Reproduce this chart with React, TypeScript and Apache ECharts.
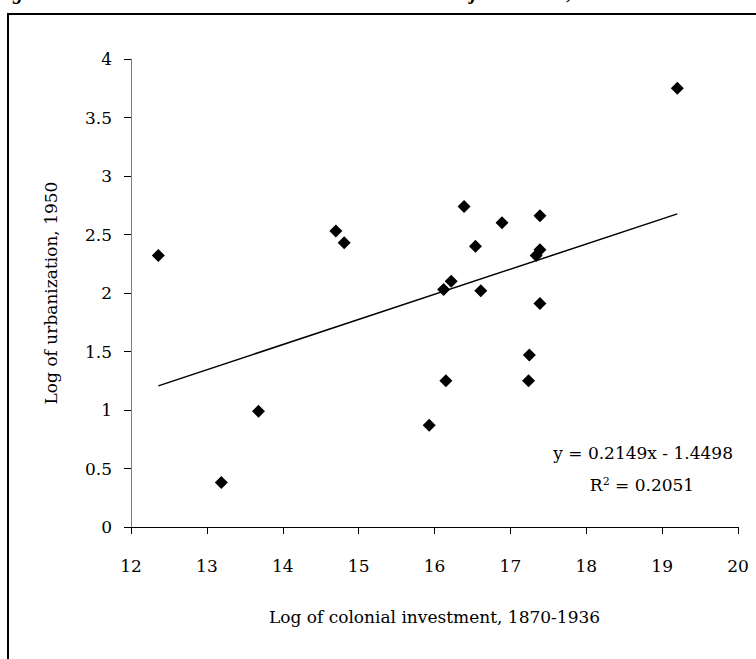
import React, { useEffect, useRef } from "react";
import * as echarts from "echarts";

const investment = [12.36, 14.70, 14.81, 16.12, 16.22, 16.61, 13.19, 13.68, 15.93, 16.15, 19.20, 16.39, 16.89, 17.39, 16.54, 17.39, 17.34, 17.39, 17.25, 17.24];
const urbanization = [2.32, 2.53, 2.43, 2.03, 2.10, 2.02, 0.38, 0.99, 0.87, 1.25, 3.75, 2.74, 2.60, 2.66, 2.40, 2.37, 2.32, 1.91, 1.47, 1.25];
const slope = 0.2149;
const intercept = -1.4498;
const rSquared = 0.2051;
const xTitle = "Log of colonial investment, 1870-1936";
const yTitle = "Log of urbanization, 1950";
const figTitle = "Figure 3: Urbanization and colonial investment in the major colonies, 1870-1936";

const FONT = "DejaVu Serif";
const FS = 17;

export default function App() {
  const ref = useRef<HTMLDivElement>(null);
  useEffect(() => {
    if (!ref.current) return;
    const chart = echarts.init(ref.current, null, { renderer: "svg" });
    const points = investment.map((x, i) => [x, urbanization[i]]);
    const xMin = Math.min(...investment);
    const xMax = Math.max(...investment);
    const trend = [
      [xMin, slope * xMin + intercept],
      [xMax, slope * xMax + intercept],
    ];
    chart.setOption({
      animation: false,
      backgroundColor: "#ffffff",
      grid: { left: 131, right: 18, top: 59, bottom: 132, containLabel: false },
      xAxis: {
        type: "value",
        min: 12,
        max: 20,
        interval: 1,
        name: xTitle,
        nameLocation: "middle",
        nameGap: 81,
        nameTextStyle: { fontFamily: FONT, fontSize: FS, color: "#000" },
        axisLine: { show: true, onZero: false, lineStyle: { color: "#000", width: 1 } },
        axisTick: { show: true, inside: false, length: 7, lineStyle: { color: "#000" } },
        axisLabel: { margin: 30, fontFamily: FONT, fontSize: FS, color: "#000" },
        splitLine: { show: false },
      },
      yAxis: {
        type: "value",
        min: 0,
        max: 4,
        interval: 0.5,
        name: yTitle,
        nameLocation: "middle",
        nameGap: 72,
        nameRotate: 90,
        nameTextStyle: { fontFamily: FONT, fontSize: FS, color: "#000" },
        axisLine: { show: true, lineStyle: { color: "#808080", width: 1 } },
        axisTick: { show: true, inside: false, length: 7, lineStyle: { color: "#000" } },
        axisLabel: { margin: 19, fontFamily: FONT, fontSize: FS, color: "#000" },
        splitLine: { show: false },
      },
      series: [
        {
          type: "scatter",
          data: points,
          symbol: "diamond",
          symbolSize: [13, 13],
          itemStyle: { color: "#000", opacity: 1 },
          z: 3,
        },
        {
          type: "line",
          data: trend,
          symbol: "none",
          lineStyle: { color: "#000", width: 1.5 },
          z: 2,
        },
      ],
      graphic: [
        {
          type: "rect",
          shape: { x: 8, y: 14, width: 800, height: 700 },
          style: { fill: "none", stroke: "#000", lineWidth: 2 },
          silent: true,
        },
        {
          type: "text",
          x: -6,
          y: -8,
          style: {
            text: figTitle,
            fontFamily: "Liberation Serif",
            fontWeight: "bold",
            fontStyle: "italic",
            fontSize: 20,
            fill: "#000",
            verticalAlign: "middle",
            align: "left",
          },
        },
        {
          type: "text",
          x: 733,
          y: 453,
          style: {
            text: `y = ${slope}x - ${Math.abs(intercept)}`,
            fontFamily: FONT,
            fontSize: FS,
            fill: "#000",
            align: "right",
            verticalAlign: "middle",
          },
        },
        {
          type: "text",
          x: 642,
          y: 485,
          style: {
            text: `{r|R}{sup|2}{r| = ${rSquared}}`,
            rich: {
              r: { fontFamily: FONT, fontSize: FS, fill: "#000" },
              sup: { fontFamily: FONT, fontSize: 11, fill: "#000", verticalAlign: "top", padding: [0, 0, 8, 0] },
            },
            align: "center",
            verticalAlign: "middle",
          },
        },
      ],
    });
    return () => chart.dispose();
  }, []);
  return (
    <div
      ref={ref}
      style={{ position: "absolute", left: 0, top: 0, width: 756, height: 659 }}
    />
  );
}
